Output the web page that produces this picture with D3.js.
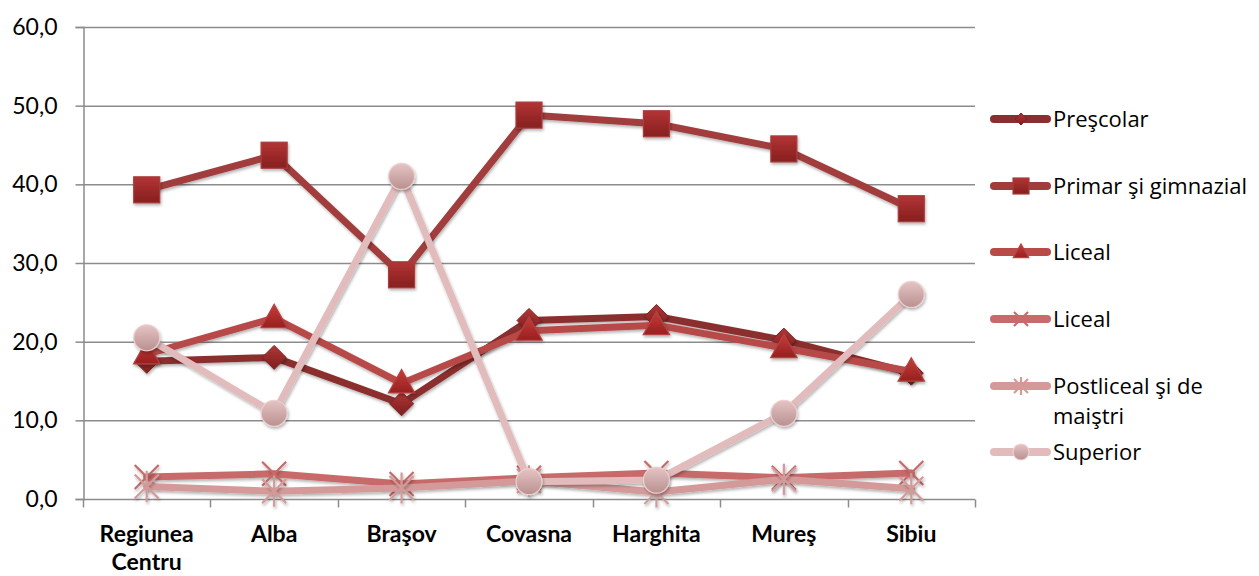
<!DOCTYPE html>
<html>
<head>
<meta charset="utf-8">
<script src="https://cdn.jsdelivr.net/npm/d3@7"></script>
<style>
  body { margin: 0; background: #fff; }
  text { font-family: Lato, "Open Sans", sans-serif; }
</style>
</head>
<body>
<div id="chart"></div>
<script>
// data
var categories = ["Regiunea Centru", "Alba", "Braşov", "Covasna", "Harghita", "Mureş", "Sibiu"];
var yTicks = [0, 10, 20, 30, 40, 50, 60];

var prescolar = [17.5, 18.0, 12.1, 22.7, 23.2, 20.2, 16.0];
var primar = [39.3, 43.7, 28.5, 48.8, 47.7, 44.5, 36.9];
var liceal = [18.4, 23.0, 14.7, 21.4, 22.1, 19.2, 16.2];
var liceal2 = [2.8, 3.2, 1.9, 2.7, 3.3, 2.7, 3.3];
var postliceal = [1.6, 1.0, 1.4, 2.3, 0.9, 2.5, 1.3];
var superior = [20.5, 10.9, 41.0, 2.2, 2.4, 10.9, 26.0];

var seriesNames = ["Preşcolar", "Primar şi gimnazial", "Liceal", "Liceal", "Postliceal şi de maiştri", "Superior"];
var seriesValues = [prescolar, primar, liceal, liceal2, postliceal, superior];
var seriesColors = ["#8a2f2f", "#a13c3c", "#b84a48", "#c76a69", "#d49a99", "#e2bcbc"];
var seriesMarkers = ["diamond", "square", "triangle", "x", "star", "circle"];

(function() {

	var W = 1259, H = 576;
	var margin = {top: 27, right: 284, bottom: 77, left: 83};
	var plot_w = W - margin.left - margin.right,
	    plot_h = H - margin.top - margin.bottom;

	var svg = d3.select("#chart").append("svg")
		.attr("width", W)
		.attr("height", H);

	var defs = svg.append("defs");

	var shadow = defs.append("filter")
		.attr("id", "shadow")
		.attr("x", "-50%").attr("y", "-50%")
		.attr("width", "200%").attr("height", "200%");
	shadow.append("feDropShadow")
		.attr("dx", 1).attr("dy", 2)
		.attr("stdDeviation", 1.6)
		.attr("flood-color", "#000")
		.attr("flood-opacity", 0.3);

	// marker gradients
	var grads = [["#b03636", "#7e1e1e"], ["#b33434", "#861f1f"], ["#c33d3b", "#981f1f"],
		["#c76a69", "#c76a69"], ["#d49a99", "#d49a99"], ["#e6c4c4", "#b99090"]];
	grads.forEach(function(g, i) {
		var lg = defs.append("linearGradient")
			.attr("id", "grad" + i)
			.attr("x1", 0).attr("y1", 0).attr("x2", 0).attr("y2", 1);
		lg.append("stop").attr("offset", "0%").attr("stop-color", g[0]);
		lg.append("stop").attr("offset", "100%").attr("stop-color", g[1]);
	});

	var g = svg.append("g")
		.attr("transform", "translate(" + margin.left + "," + margin.top + ")");

	var x = d3.scaleBand()
		.domain(categories)
		.range([0, plot_w]);

	var y = d3.scaleLinear()
		.domain([0, 60])
		.range([plot_h, 0]);

	// gridlines
	g.append("g")
		.selectAll("line")
		.data(yTicks.slice(1))
		.enter()
		.append("line")
			.attr("x1", 0)
			.attr("x2", plot_w)
			.attr("y1", d => y(d) + 0.5)
			.attr("y2", d => y(d) + 0.5)
			.attr("stroke", "#8c8c8c")
			.attr("stroke-width", 1.5);

	// y axis
	var yAxis = g.append("g")
		.attr("transform", "translate(0.5,0)")
		.call(d3.axisLeft(y)
			.tickValues(yTicks)
			.tickSize(8)
			.tickPadding(18)
			.tickFormat(d => d3.format(".1f")(d).replace(".", ","))
		);
	yAxis.select(".domain").attr("stroke", "#8c8c8c").attr("stroke-width", 1.5);
	yAxis.selectAll(".tick line").attr("stroke", "#8c8c8c").attr("stroke-width", 1.5);
	yAxis.selectAll("text")
		.style("font-size", "23px")
		.attr("fill", "#000");

	// x axis with ticks on the band boundaries
	var xAxis = g.append("g")
		.attr("transform", "translate(0," + (plot_h + 0.5) + ")");
	xAxis.append("line")
		.attr("x1", 0).attr("x2", plot_w)
		.attr("stroke", "#8c8c8c").attr("stroke-width", 1.5);
	xAxis.selectAll(".btick")
		.data(d3.range(categories.length + 1))
		.enter()
		.append("line")
			.attr("class", "btick")
			.attr("x1", d => Math.round(d * x.step()) + 0.5)
			.attr("x2", d => Math.round(d * x.step()) + 0.5)
			.attr("y1", 0)
			.attr("y2", 8)
			.attr("stroke", "#8c8c8c").attr("stroke-width", 1.5);

	var xlabels = xAxis.selectAll(".xlabel")
		.data(categories)
		.enter()
		.append("text")
			.attr("class", "xlabel")
			.attr("text-anchor", "middle")
			.attr("x", d => x(d) + x.bandwidth() / 2)
			.attr("y", 42)
			.style("font-size", "23px")
			.style("font-weight", "bold");
	xlabels.each(function(d) {
		var parts = d == "Regiunea Centru" ? ["Regiunea", "Centru"] : [d];
		var t = d3.select(this);
		parts.forEach(function(p, i) {
			t.append("tspan")
				.attr("x", x(d) + x.bandwidth() / 2)
				.attr("dy", i == 0 ? 0 : 28)
				.text(p);
		});
	});

	function draw_marker(sel, type, size, i) {
		var fill = "url(#grad" + i + ")";
		var col = seriesColors[i];
		var s = size;
		if (type == "diamond") {
			sel.append("path")
				.attr("d", "M0," + (-s) + "L" + s + ",0L0," + s + "L" + (-s) + ",0Z")
				.attr("fill", fill)
				.attr("stroke", "#7a2424").attr("stroke-width", 1);
		} else if (type == "square") {
			sel.append("rect")
				.attr("x", -s).attr("y", -s)
				.attr("width", 2 * s).attr("height", 2 * s)
				.attr("fill", fill)
				.attr("stroke", "#a83c3c").attr("stroke-width", 1.2);
		} else if (type == "triangle") {
			sel.append("path")
				.attr("d", "M0," + (-s * 1.15) + "L" + (s * 1.1) + "," + (s * 0.8) + "L" + (-s * 1.1) + "," + (s * 0.8) + "Z")
				.attr("fill", fill)
				.attr("stroke", "#b64141").attr("stroke-width", 1.2);
		} else if (type == "x") {
			sel.append("path")
				.attr("d", "M" + (-s) + "," + (-s) + "L" + s + "," + s + "M" + (-s) + "," + s + "L" + s + "," + (-s))
				.attr("stroke", col).attr("stroke-width", 2.2).attr("fill", "none");
		} else if (type == "star") {
			sel.append("path")
				.attr("d", "M" + (-s) + "," + (-s) + "L" + s + "," + s + "M" + (-s) + "," + s + "L" + s + "," + (-s) +
					"M0," + (-s * 1.3) + "L0," + (s * 1.3))
				.attr("stroke", col).attr("stroke-width", 2.2).attr("fill", "none");
		} else {
			sel.append("circle")
				.attr("r", s)
				.attr("fill", fill)
				.attr("stroke", "#edd0d0").attr("stroke-width", 1.2);
		}
	}

	var line = d3.line()
		.x((d, i) => x(categories[i]) + x.bandwidth() / 2)
		.y(d => y(d));

	var series = g.selectAll(".series")
		.data(seriesValues)
		.enter()
		.append("g")
			.attr("class", "series");

	series.append("path")
		.attr("d", d => line(d))
		.attr("fill", "none")
		.attr("stroke", (d, i) => seriesColors[i])
		.attr("stroke-width", 7)
		.attr("stroke-linejoin", "round")
		.attr("stroke-linecap", "round")
		.attr("filter", "url(#shadow)");

	series.each(function(vals, si) {
		var sizes = [12, 13, 12, 12, 12, 13];
		d3.select(this).selectAll(".pt")
			.data(vals)
			.enter()
			.append("g")
				.attr("class", "pt")
				.attr("filter", "url(#shadow)")
				.attr("transform", (d, i) =>
					"translate(" + (x(categories[i]) + x.bandwidth() / 2) + "," + y(d) + ")")
				.each(function() {
					draw_marker(d3.select(this), seriesMarkers[si], sizes[si], si);
				});
	});

	// legend
	var legendRows = [119, 186, 252, 319, 386, 452];
	var legendMarkerSizes = [6, 8, 7, 7, 7, 8];
	var legend = svg.append("g");
	seriesNames.forEach(function(name, i) {
		var row = legend.append("g")
			.attr("transform", "translate(0," + legendRows[i] + ")");
		row.append("line")
			.attr("x1", 994).attr("x2", 1047)
			.attr("y1", 0).attr("y2", 0)
			.attr("stroke", seriesColors[i])
			.attr("stroke-width", 8)
			.attr("stroke-linecap", "round");
		var m = row.append("g").attr("transform", "translate(1021,0)");
		draw_marker(m, seriesMarkers[i], legendMarkerSizes[i], i);
		var txt = row.append("text")
			.attr("x", 1053)
			.attr("y", 8)
			.style("font-family", "'Open Sans', sans-serif")
			.style("font-size", "22px")
			.attr("fill", "#000");
		if (name == "Postliceal şi de maiştri") {
			txt.append("tspan").attr("x", 1053).text("Postliceal şi de");
			txt.append("tspan").attr("x", 1053).attr("dy", 30).text("maiştri");
		} else {
			txt.text(name);
		}
	});

}) ();
</script>
</body>
</html>
